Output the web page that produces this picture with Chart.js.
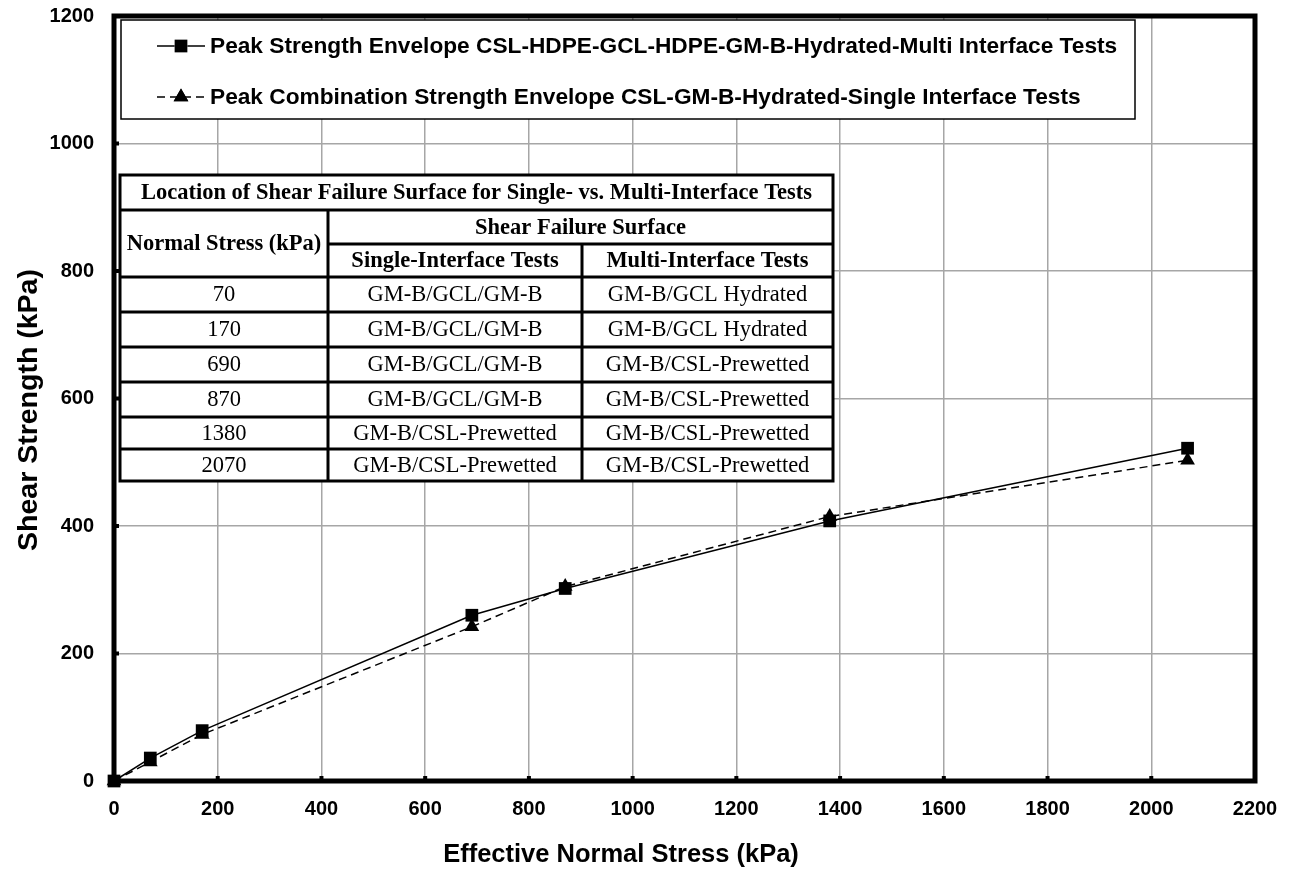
<!DOCTYPE html>
<html>
<head>
<meta charset="utf-8">
<script src="https://cdn.jsdelivr.net/npm/chart.js@4"></script>
<style>
  html, body { margin: 0; background: #fff; }
</style>
</head>
<body>
<canvas id="shearChart" width="1292" height="875"></canvas>
<script>
// effective normal stress (kPa) and peak shear strength (kPa)
const normalStress = [0, 70, 170, 690, 870, 1380, 2070];
const multiPeak = [0, 36, 79, 260, 302, 408, 522];
const singlePeak = [0, 30, 73, 242, 305, 415, 503];

const seriesLabels = [
  "Peak Strength Envelope CSL-HDPE-GCL-HDPE-GM-B-Hydrated-Multi Interface Tests",
  "Peak Combination Strength Envelope CSL-GM-B-Hydrated-Single Interface Tests",
];

// table inset
const tableTitle = "Location of Shear Failure Surface for Single- vs. Multi-Interface Tests";
const tableStress = ["70", "170", "690", "870", "1380", "2070"];
const singleSurface = ["GM-B/GCL/GM-B", "GM-B/GCL/GM-B", "GM-B/GCL/GM-B", "GM-B/GCL/GM-B", "GM-B/CSL-Prewetted", "GM-B/CSL-Prewetted"];
const multiSurface = ["GM-B/GCL Hydrated", "GM-B/GCL Hydrated", "GM-B/CSL-Prewetted", "GM-B/CSL-Prewetted", "GM-B/CSL-Prewetted", "GM-B/CSL-Prewetted"];

const toPoints = (xs, ys) => xs.map((x, i) => ({ x: x, y: ys[i] }));

const sansBold = (size) => "bold " + size + "px 'Liberation Sans', Arial, sans-serif";
const serif = (size, bold) => (bold ? "bold " : "") + size + "px 'Liberation Serif', 'Times New Roman', serif";

// frame, inward tick nubs
const framePlugin = {
  id: "frame",
  beforeDatasetsDraw(chart) {
    const { ctx, chartArea: a, scales } = chart;
    ctx.save();
    ctx.fillStyle = "#000";
    scales.x.ticks.forEach((t) => {
      const px = scales.x.getPixelForValue(t.value);
      ctx.fillRect(px - 2, a.bottom - 5, 4, 5);
    });
    scales.y.ticks.forEach((t) => {
      const py = scales.y.getPixelForValue(t.value);
      ctx.fillRect(a.left, py - 2, 5, 4);
    });
    ctx.strokeStyle = "#000";
    ctx.lineWidth = 5;
    ctx.strokeRect(a.left, a.top, a.right - a.left, a.bottom - a.top);
    ctx.restore();
  },
};

const overlayPlugin = {
  id: "overlay",
  afterDraw(chart) {
    const { ctx } = chart;
    ctx.save();

    // axis titles
    ctx.fillStyle = "#000";
    ctx.textAlign = "center";
    ctx.textBaseline = "middle";
    ctx.font = sansBold(25.5);
    ctx.fillText("Effective Normal Stress (kPa)", 621, 855);
    ctx.save();
    ctx.translate(29, 410);
    ctx.rotate(-Math.PI / 2);
    ctx.font = sansBold(28.5);
    ctx.fillText("Shear Strength (kPa)", 0, 0);
    ctx.restore();

    // legend box
    ctx.fillStyle = "#fff";
    ctx.fillRect(121, 20, 1014, 99);
    ctx.strokeStyle = "#000";
    ctx.lineWidth = 1.5;
    ctx.strokeRect(121, 20, 1014, 99);
    const rows = [46, 97];
    chart.data.datasets.forEach((ds, i) => {
      const y = rows[i];
      ctx.beginPath();
      ctx.setLineDash(ds.borderDash || []);
      ctx.lineWidth = ds.borderWidth;
      ctx.moveTo(157, y);
      ctx.lineTo(205, y);
      ctx.stroke();
      ctx.setLineDash([]);
      Chart.helpers.drawPoint(ctx, {
        pointStyle: ds.pointStyle,
        radius: ds.pointRadius,
        borderWidth: 0,
      }, 181, y);
      ctx.fillStyle = "#000";
      ctx.fill();
      ctx.font = sansBold(22.7);
      ctx.textAlign = "left";
      ctx.fillText(ds.label, 210, y + 1);
    });

    // table inset
    const L = 120, C1 = 328, C2 = 582, R = 833;
    const ys = [175, 210, 244, 277, 312, 347, 382, 417, 449, 481];
    ctx.fillStyle = "#fff";
    ctx.fillRect(L, ys[0], R - L, ys[ys.length - 1] - ys[0]);
    ctx.strokeStyle = "#000";
    ctx.lineWidth = 3;
    ctx.strokeRect(L, ys[0], R - L, ys[ys.length - 1] - ys[0]);
    ctx.beginPath();
    ys.slice(1, -1).forEach((y, i) => {
      const from = i === 1 ? C1 : L;
      ctx.moveTo(from, y);
      ctx.lineTo(R, y);
    });
    ctx.moveTo(C1, ys[1]);
    ctx.lineTo(C1, ys[ys.length - 1]);
    ctx.moveTo(C2, ys[2]);
    ctx.lineTo(C2, ys[ys.length - 1]);
    ctx.stroke();

    ctx.fillStyle = "#000";
    ctx.textAlign = "center";
    ctx.textBaseline = "middle";
    const mid = (i) => (ys[i] + ys[i + 1]) / 2 + 1;
    ctx.font = serif(22.5, true);
    ctx.fillText(tableTitle, (L + R) / 2, mid(0));
    ctx.fillText("Shear Failure Surface", (C1 + R) / 2, mid(1));
    ctx.fillText("Normal Stress (kPa)", (L + C1) / 2, (ys[1] + ys[3]) / 2 + 1);
    ctx.fillText("Single-Interface Tests", (C1 + C2) / 2, mid(2));
    ctx.fillText("Multi-Interface Tests", (C2 + R) / 2, mid(2));
    ctx.font = serif(22.5, false);
    tableStress.forEach((s, i) => {
      ctx.fillText(s, (L + C1) / 2, mid(i + 3));
      ctx.fillText(singleSurface[i], (C1 + C2) / 2, mid(i + 3));
      ctx.fillText(multiSurface[i], (C2 + R) / 2, mid(i + 3));
    });

    ctx.restore();
  },
};

const tickFont = { family: "'Liberation Sans', Arial, sans-serif", size: 20, weight: "bold" };

const ctx = document.getElementById("shearChart").getContext("2d");
const chart = new Chart(ctx, {
  type: "scatter",
  data: {
    datasets: [
      {
        label: seriesLabels[0],
        data: toPoints(normalStress, multiPeak),
        showLine: true,
        borderColor: "#000",
        backgroundColor: "#000",
        borderWidth: 1.5,
        pointStyle: "rect",
        pointRadius: 9,
        pointBorderWidth: 0,
        clip: false,
      },
      {
        label: seriesLabels[1],
        data: toPoints(normalStress, singlePeak),
        showLine: true,
        borderColor: "#000",
        backgroundColor: "#000",
        borderWidth: 1.5,
        borderDash: [8, 5],
        pointStyle: "triangle",
        pointRadius: 8.5,
        pointBorderWidth: 0,
        clip: false,
      },
    ],
  },
  options: {
    responsive: false,
    animation: false,
    devicePixelRatio: 1,
    layout: { padding: { top: 16, right: 37, left: 0, bottom: 0 } },
    plugins: {
      legend: { display: false },
      tooltip: { enabled: false },
    },
    scales: {
      x: {
        type: "linear",
        min: 0,
        max: 2200,
        afterFit: (scale) => {
          scale.height = 94;
          scale.paddingLeft = 0;
          scale.paddingRight = 0;
        },
        ticks: {
          stepSize: 200,
          padding: 16,
          color: "#000",
          font: tickFont,
          callback: (v) => String(v),
        },
        grid: { color: "#a6a6a6", lineWidth: 1.5, drawTicks: false },
        border: { display: false },
      },
      y: {
        type: "linear",
        min: 0,
        max: 1200,
        afterFit: (scale) => {
          scale.width = 114;
          scale.paddingTop = 0;
          scale.paddingBottom = 0;
        },
        ticks: {
          stepSize: 200,
          padding: 20,
          color: "#000",
          font: tickFont,
          callback: (v) => String(v),
        },
        grid: { color: "#a6a6a6", lineWidth: 1.5, drawTicks: false },
        border: { display: false },
      },
    },
  },
  plugins: [framePlugin, overlayPlugin],
});
</script>
</body>
</html>
